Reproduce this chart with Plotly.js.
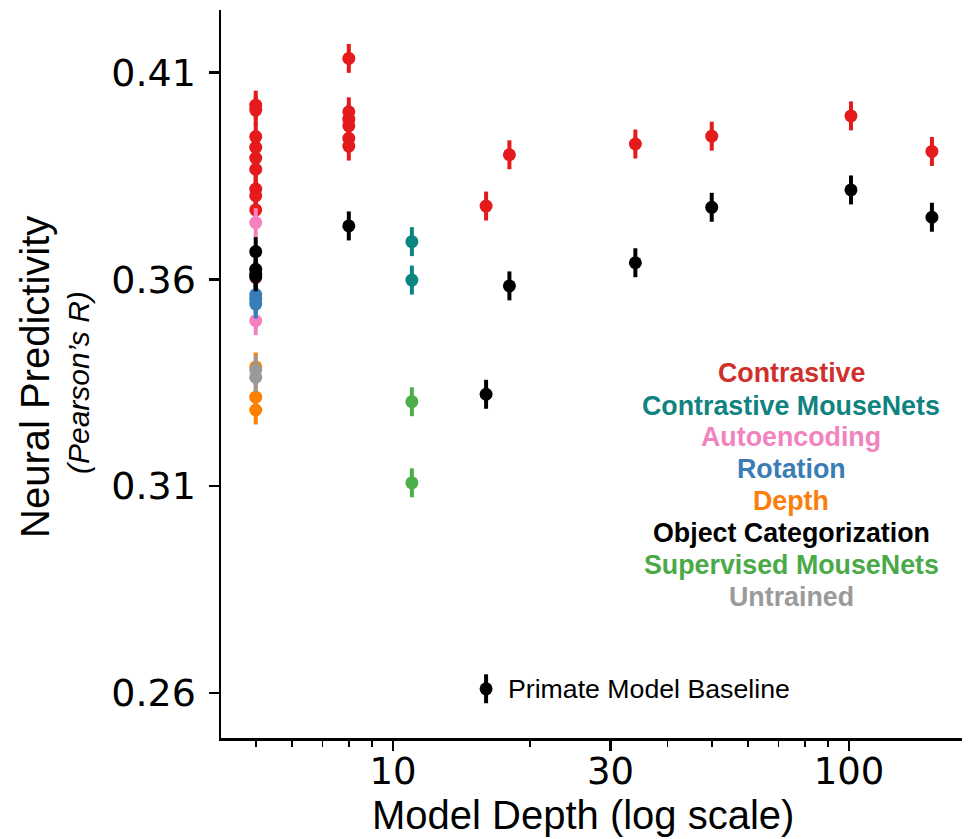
<!DOCTYPE html>
<html>
<head>
<meta charset="utf-8">
<script src="https://cdn.plot.ly/plotly-3.0.1.min.js"></script>
<style>html,body{margin:0;padding:0;background:#fff;}</style>
</head>
<body>
<div id="chart" style="width:969px;height:839px;"></div>
<script>
// ---- data (model depth vs neural predictivity, error = s.e.m.) ----
const contrastiveX   = [5,5,5,5,5,5,5,5,5, 8,8,8,8,8,8, 16,18,34,50,101,152];
const contrastiveY   = [0.4021,0.4009,0.3945,0.3919,0.3893,0.3866,0.3818,0.3802,0.3768,
                        0.4134,0.4005,0.3987,0.3971,0.3941,0.3922,
                        0.3777,0.3901,0.3927,0.3946,0.3995,0.3909];
const contrastiveErr = [0.0035,0.0035,0.0035,0.0035,0.0035,0.0035,0.0035,0.0035,0.0035,
                        0.0035,0.0035,0.0035,0.0035,0.0035,0.0035,
                        0.0035,0.0035,0.0035,0.0035,0.0035,0.0035];

const contrastiveMouseX   = [11, 11];
const contrastiveMouseY   = [0.3691, 0.3598];
const contrastiveMouseErr = [0.0035, 0.0035];

const autoencodingX   = [5, 5, 5];
const autoencodingY   = [0.3737, 0.3603, 0.3500];
const autoencodingErr = [0.0035, 0.0035, 0.0035];

const rotationX   = [5, 5, 5];
const rotationY   = [0.3563, 0.3552, 0.3540];
const rotationErr = [0.0035, 0.0035, 0.0035];

const depthX   = [5, 5, 5];
const depthY   = [0.3388, 0.3315, 0.3284];
const depthErr = [0.0035, 0.0035, 0.0035];

const objectX   = [5,5,5,5, 8, 16, 18, 34, 50, 101, 152];
const objectY   = [0.3667,0.3624,0.3612,0.3606, 0.3729, 0.3322, 0.3584, 0.3640, 0.3774, 0.3816, 0.3750];
const objectErr = [0.0035,0.0035,0.0035,0.0035, 0.0035, 0.0035, 0.0035, 0.0035, 0.0035, 0.0035, 0.0035];

const supervisedMouseX   = [11, 11];
const supervisedMouseY   = [0.3304, 0.3108];
const supervisedMouseErr = [0.0035, 0.0035];

const untrainedX   = [5, 5];
const untrainedY   = [0.3381, 0.3363];
const untrainedErr = [0.0035, 0.0035];

// legend sample for the primate baseline key
const baselineKeyX   = [16];
const baselineKeyY   = [0.2610];
const baselineKeyErr = [0.0035];

const groupNames  = ['Contrastive','Contrastive MouseNets','Autoencoding','Rotation','Depth',
                     'Object Categorization','Supervised MouseNets','Untrained'];
const groupColors = ['#e41a1c','#0b8581','#f781bf','#377eb8','#ff7f00','#000000','#4daf4a','#999999'];
const labelColors = ['#d0302c','#0f837f','#f184bf','#3a7cb5','#fb7d0a','#000000','#4aaa48','#9a9a9a'];

const yTickVals = [0.26, 0.31, 0.36, 0.41];
const yTickText = ['0.26', '0.31', '0.36', '0.41'];
const xTickVals = [10, 30, 100];
const xTickText = ['10', '30', '100'];
const xMinorVals = [5,6,7,8,9,20,40,50,60,70,80,90];

// ---- traces ----
const groups = [
  [contrastiveX, contrastiveY, contrastiveErr],
  [contrastiveMouseX, contrastiveMouseY, contrastiveMouseErr],
  [autoencodingX, autoencodingY, autoencodingErr],
  [rotationX, rotationY, rotationErr],
  [depthX, depthY, depthErr],
  [objectX, objectY, objectErr],
  [supervisedMouseX, supervisedMouseY, supervisedMouseErr],
  [untrainedX, untrainedY, untrainedErr]
];

function mk(x, y, e, color, name) {
  return {
    type: 'scatter', mode: 'markers', x: x, y: y, name: name,
    marker: {color: color, size: 13, line: {width: 0}},
    error_y: {type: 'data', array: e, visible: true, color: color, thickness: 4, width: 0},
    hoverinfo: 'x+y'
  };
}

const traces = groups.map((g, i) => mk(g[0], g[1], g[2], groupColors[i], groupNames[i]));
traces.push(mk(baselineKeyX, baselineKeyY, baselineKeyErr, '#000000', 'Primate Model Baseline'));

// ---- layout ----
const L = 221, R = 962, T = 10, B = 738;
const W = R - L, H = B - T;
const px = v => (v - L) / W;
const py = v => (B - v) / H;

const annotations = [];
const labelY = [373, 406, 437, 469, 501, 533, 565, 597];
groupNames.forEach((n, i) => {
  annotations.push({
    xref: 'paper', yref: 'paper', x: px(791), y: py(labelY[i]),
    xanchor: 'center', yanchor: 'middle', showarrow: false,
    text: '<b>' + n + '</b>',
    font: {family: 'Liberation Sans, Arial, sans-serif', size: 26.8, color: labelColors[i]}
  });
});
annotations.push({
  xref: 'paper', yref: 'y', x: px(506), y: baselineKeyY[0],
  xanchor: 'left', yanchor: 'middle', showarrow: false,
  text: 'Primate Model Baseline',
  font: {family: 'Liberation Sans, Arial, sans-serif', size: 26.7, color: '#000'}
});
// axis titles
annotations.push({
  xref: 'paper', yref: 'paper', x: px(583), y: py(815),
  xanchor: 'center', yanchor: 'middle', showarrow: false,
  text: 'Model Depth (log scale)',
  font: {family: 'Liberation Sans, Arial, sans-serif', size: 40, color: '#000'}
});
annotations.push({
  xref: 'paper', yref: 'paper', x: px(35), y: py(377),
  xanchor: 'center', yanchor: 'middle', showarrow: false, textangle: -90,
  text: 'Neural Predictivity',
  font: {family: 'Liberation Sans, Arial, sans-serif', size: 40, color: '#000'}
});
annotations.push({
  xref: 'paper', yref: 'paper', x: px(79), y: py(383),
  xanchor: 'center', yanchor: 'middle', showarrow: false, textangle: -90,
  text: '<i>(Pearson’s R)</i>',
  font: {family: 'Liberation Sans, Arial, sans-serif', size: 30, color: '#000'}
});

const layout = {
  width: 969, height: 839,
  margin: {l: L, r: 969 - R, t: T, b: 839 - B, pad: 0},
  paper_bgcolor: '#fff', plot_bgcolor: '#fff',
  showlegend: false,
  xaxis: {
    type: 'log', range: [0.6228, 2.2478],
    tickmode: 'array', tickvals: xTickVals, ticktext: xTickText,
    ticks: 'outside', ticklen: 10, tickwidth: 2.5, tickcolor: '#000',
    showline: true, linewidth: 2.5, linecolor: '#000',
    showgrid: false, zeroline: false,
    ticklabelstandoff: -11,
    tickfont: {family: 'DejaVu Sans, sans-serif', size: 37, color: '#000'},
    minor: {tickmode: 'array', tickvals: xMinorVals, ticks: 'outside', ticklen: 6,
            tickwidth: 1.6, tickcolor: '#000', showgrid: false}
  },
  yaxis: {
    range: [0.2491, 0.4251],
    tickmode: 'array', tickvals: yTickVals, ticktext: yTickText,
    ticks: 'outside', ticklen: 10, tickwidth: 2.5, tickcolor: '#000',
    showline: true, linewidth: 2.5, linecolor: '#000',
    showgrid: false, zeroline: false,
    ticklabelstandoff: 5,
    tickfont: {family: 'DejaVu Sans, sans-serif', size: 38, color: '#000'}
  },
  annotations: annotations
};

Plotly.newPlot('chart', traces, layout, {displayModeBar: false, staticPlot: true});
</script>
</body>
</html>
